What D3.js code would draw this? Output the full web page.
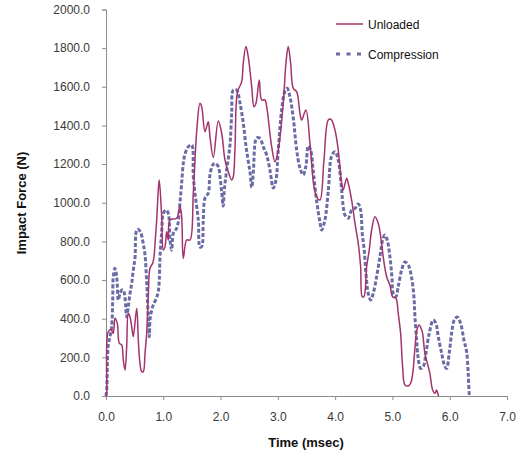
<!DOCTYPE html>
<html><head><meta charset="utf-8">
<script src="https://cdn.jsdelivr.net/npm/d3@7"></script>
<style>
html,body{margin:0;padding:0;background:#fff;}
svg{display:block;font-family:"Liberation Sans",Arial,sans-serif;}
</style></head>
<body>
<svg id="chart" width="524" height="456"></svg>
<script>
const seriesNames = ["Unloaded", "Compression"];
const xTicks = [0,1,2,3,4,5,6,7];
const yTicks = [0,200,400,600,800,1000,1200,1400,1600,1800,2000];

// time (msec)
const unloadedTime = [0,0.012,0.04,0.093,0.127,0.157,0.197,0.232,0.274,0.302,0.332,0.361,0.389,0.419,0.449,0.476,0.536,0.564,0.593,0.623,0.651,0.681,0.71,0.738,0.768,0.815,0.838,0.86,0.885,0.913,0.93,0.972,1.0,1.03,1.059,1.087,1.117,1.234,1.291,1.321,1.349,1.408,1.466,1.524,1.583,1.64,1.67,1.728,1.785,1.815,1.873,1.96,2.019,2.077,2.134,2.194,2.222,2.251,2.295,2.368,2.396,2.443,2.483,2.543,2.583,2.618,2.675,2.717,2.775,2.805,2.892,2.949,3.007,3.094,3.141,3.181,3.223,3.269,3.328,3.386,3.415,3.49,3.56,3.63,3.677,3.735,3.805,3.88,3.927,3.997,4.054,4.113,4.141,4.201,4.229,4.288,4.346,4.403,4.445,4.473,4.503,4.55,4.595,4.637,4.695,4.752,4.811,4.839,4.899,4.956,5.003,5.061,5.101,5.143,5.178,5.218,5.276,5.318,5.353,5.393,5.428,5.468,5.51,5.527,5.567,5.625,5.654,5.702,5.742,5.771,5.8,5.81];
// impact force (N)
const unloadedForce = [0,14,333,342,324,402,376,273,264,186,135,255,428,410,359,307,454,290,169,126,126,221,324,514,661,687,721,807,911,1066,1118,928,755,773,850,807,911,920,983,928,713,807,807,1049,1368,1515,1497,1368,1419,1342,1234,1423,1361,1221,1161,1118,1135,1273,1573,1626,1722,1808,1756,1601,1497,1515,1635,1532,1532,1497,1290,1212,1273,1515,1722,1808,1722,1592,1575,1463,1428,1480,1308,1083,1031,1014,1221,1428,1432,1376,1273,1101,1066,1127,1101,1014,894,790,669,514,514,669,755,859,928,894,790,721,617,574,514,506,428,324,152,57,52,66,114,248,342,367,342,324,221,152,117,31,14,31,5,0];

const compressionTime = [0,0.012,0.023,0.04,0.07,0.099,0.117,0.127,0.157,0.187,0.215,0.244,0.274,0.302,0.332,0.361,0.389,0.419,0.449,0.476,0.506,0.536,0.564,0.606,0.651,0.681,0.71,0.738,0.756,0.768,0.798,0.825,0.885,0.913,0.93,0.942,0.972,1.0,1.047,1.087,1.117,1.147,1.175,1.234,1.262,1.291,1.321,1.349,1.379,1.436,1.496,1.524,1.553,1.611,1.64,1.67,1.698,1.728,1.785,1.815,1.862,1.902,1.96,1.99,2.019,2.047,2.065,2.106,2.164,2.194,2.222,2.281,2.339,2.396,2.443,2.483,2.513,2.543,2.571,2.63,2.688,2.745,2.805,2.862,2.92,2.967,3.007,3.066,3.124,3.164,3.211,3.269,3.328,3.386,3.443,3.49,3.531,3.572,3.619,3.677,3.735,3.764,3.822,3.88,3.939,3.997,4.054,4.113,4.141,4.171,4.229,4.288,4.346,4.403,4.445,4.473,4.508,4.538,4.578,4.62,4.665,4.724,4.782,4.829,4.869,4.909,4.956,4.991,5.014,5.061,5.101,5.161,5.218,5.276,5.332,5.375,5.393,5.422,5.447,5.492,5.538,5.585,5.642,5.712,5.759,5.8,5.859,5.916,5.946,5.991,6.033,6.079,6.131,6.19,6.248,6.295,6.323,6.34,6.347];
const compressionForce = [0,31,152,264,307,359,497,617,661,617,497,531,548,548,506,410,462,531,583,652,714,859,862,846,787,730,590,404,307,393,445,471,510,541,600,714,849,945,962,945,807,755,842,868,900,999,1102,1204,1252,1290,1299,1135,1049,911,771,773,911,1025,1049,1144,1195,1204,1187,1135,1056,983,1066,1169,1299,1463,1583,1583,1516,1413,1294,1216,1161,1079,1154,1335,1333,1290,1247,1169,1076,1118,1273,1480,1578,1592,1549,1439,1273,1180,1144,1190,1294,1273,1159,1009,900,859,911,1061,1242,1264,1221,1066,980,937,920,962,971,994,962,842,755,635,531,497,531,617,721,807,833,807,721,617,531,514,566,652,693,678,617,514,410,290,203,143,152,221,324,393,376,307,221,152,143,221,324,393,409,376,290,229,117,14,0];

const colors = {"Unloaded": "#a3336d", "Compression": "#6b6ba6"};

const svg = d3.select("#chart");
const x = d3.scaleLinear().domain([0,7]).range([106,507]);
const y = d3.scaleLinear().domain([0,2000]).range([396,9.5]);

const axisColor = "#8c8c8c";
const labelColor = "#3a3a3a";

// y axis
const gy = svg.append("g").attr("transform","translate(106,0)")
  .call(d3.axisLeft(y).tickValues(yTicks).tickFormat(d3.format(".1f")).tickSize(4).tickPadding(12));
// x axis
const gx = svg.append("g").attr("transform","translate(0,396)")
  .call(d3.axisBottom(x).tickValues(xTicks).tickFormat(d3.format(".1f")).tickSize(4).tickPadding(12));
[gx, gy].forEach(g => {
  g.select(".domain").attr("stroke", axisColor);
  g.selectAll(".tick line").attr("stroke", axisColor);
  g.selectAll(".tick text").attr("fill", labelColor).style("font-size","12px").style("font-family","'Liberation Sans',Arial,sans-serif");
});

const line = d3.line().x(d => x(d[0])).y(d => y(d[1])).curve(d3.curveCatmullRom.alpha(0.5));

const unloaded = unloadedTime.map((t,i) => [t, unloadedForce[i]]);
const compression = compressionTime.map((t,i) => [t, compressionForce[i]]);

svg.append("path").datum(compression).attr("d", line)
  .attr("fill","none").attr("stroke", colors.Compression).attr("stroke-width", 3)
  .attr("stroke-dasharray","4,2").attr("stroke-linejoin","round");
svg.append("path").datum(unloaded).attr("d", line)
  .attr("fill","none").attr("stroke", colors.Unloaded).attr("stroke-width", 1.5)
  .attr("stroke-linejoin","round");

// legend
const leg = svg.append("g");
leg.append("line").attr("x1",336).attr("x2",363).attr("y1",24).attr("y2",24)
  .attr("stroke", colors.Unloaded).attr("stroke-width",1.5);
leg.append("text").attr("x",368).attr("y",28.5).text(seriesNames[0])
  .style("font-size","12px").attr("fill","#111");
leg.append("line").attr("x1",336).attr("x2",363).attr("y1",54).attr("y2",54)
  .attr("stroke", colors.Compression).attr("stroke-width",3).attr("stroke-dasharray","4,6.5");
leg.append("text").attr("x",368).attr("y",58.5).text(seriesNames[1])
  .style("font-size","12px").attr("fill","#111");

// axis titles
svg.append("text").attr("x",306).attr("y",447).attr("text-anchor","middle")
  .style("font-size","13px").style("font-weight","bold").attr("fill","#111").text("Time (msec)");
svg.append("text").attr("transform","translate(26,203) rotate(-90)").attr("text-anchor","middle")
  .style("font-size","13px").style("font-weight","bold").attr("fill","#111").text("Impact Force (N)");
</script>
</body></html>
